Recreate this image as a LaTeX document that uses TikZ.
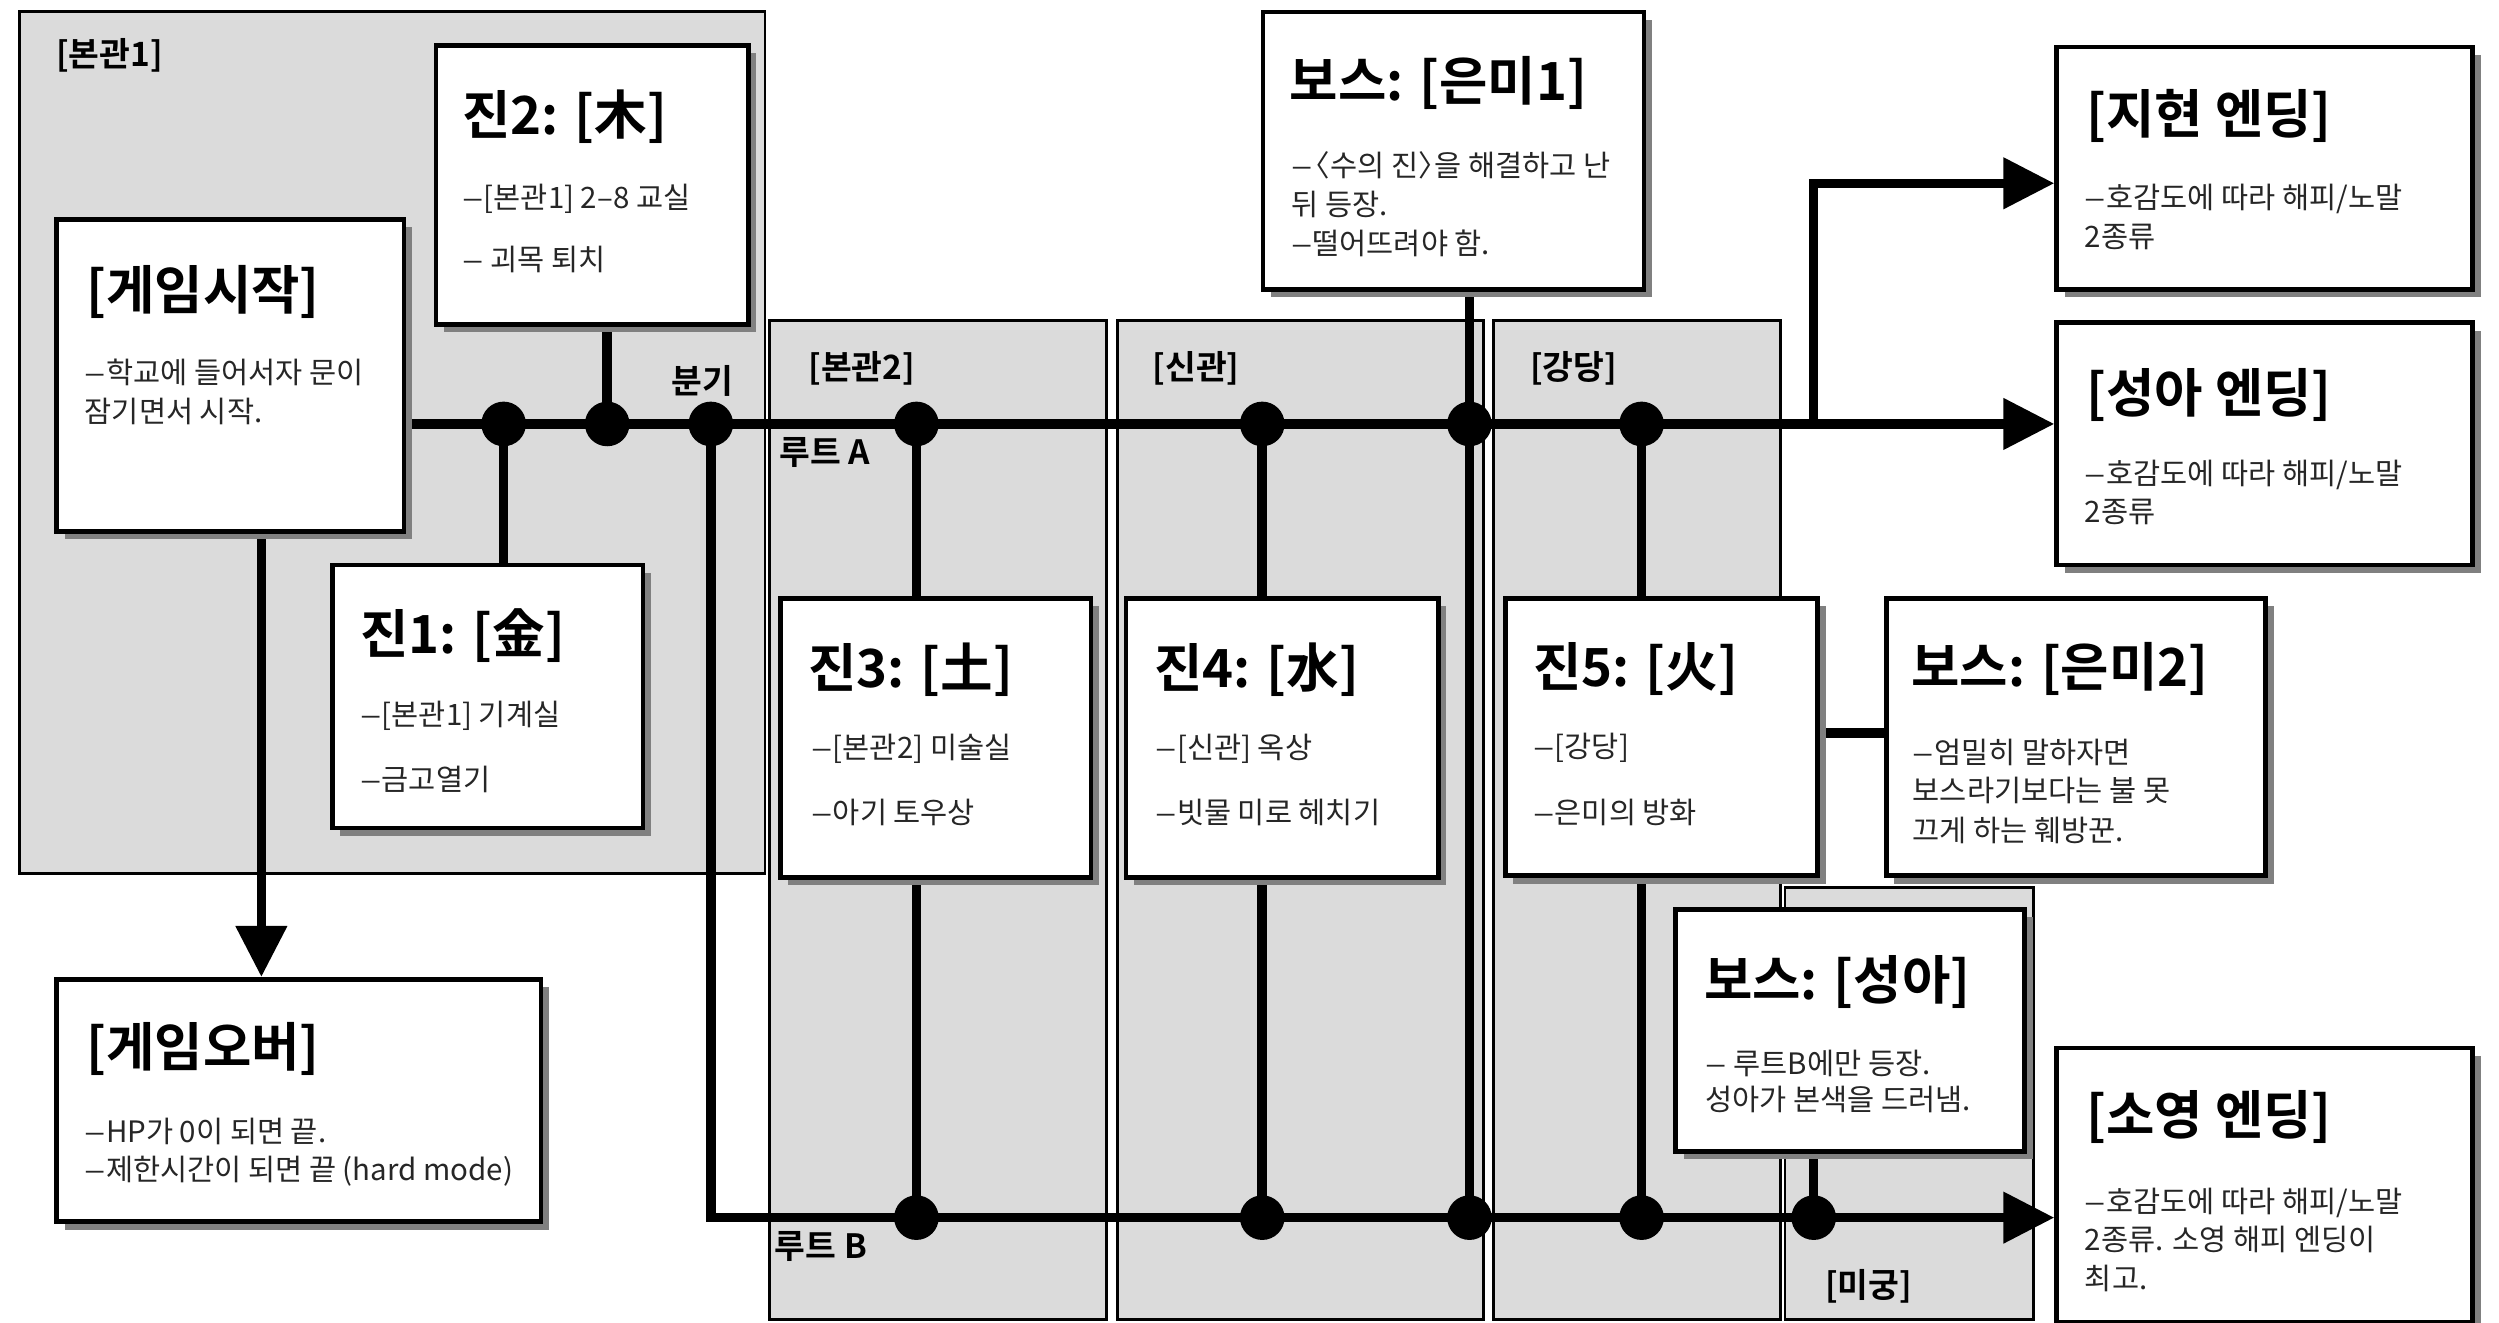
\documentclass[tikz,border=0pt]{standalone}
\usepackage{fontspec}
\usepackage{graphicx}
\setmainfont{Noto Sans CJK KR}[BoldFont={Noto Sans CJK KR Bold}]
\usetikzlibrary{arrows.meta,shadows}
\pgfdeclarelayer{bg}
\pgfdeclarelayer{mid}
\pgfdeclarelayer{fg}
\pgfsetlayers{bg,mid,main,fg}
\definecolor{regiongray}{gray}{0.86}
\definecolor{bodytext}{gray}{0.15}
\newcommand\bd{\scalebox{1.35}[1]{–}}
\tikzset{
  box/.style={draw, line width=3pt, fill=white, anchor=north west, inner sep=0pt,
    drop shadow={shadow xshift=5pt, shadow yshift=-5pt, fill=black!50, opacity=1}},
  region/.style={draw, line width=1.8pt, fill=regiongray},
  conn/.style={line width=6pt},
  dot/.style={circle, fill=black, inner sep=0pt, minimum size=28pt},
  arr/.style={line width=6pt, -{Triangle[width=31pt,length=32pt]}},
  ttl/.style={anchor=west, inner sep=0pt, font=\bfseries\fontsize{33}{36}\selectfont},
  bdy/.style={anchor=west, inner sep=0pt, text=bodytext, font=\fontsize{18.5}{22}\selectfont},
  lbl/.style={anchor=west, inner sep=0pt, font=\bfseries\fontsize{21}{24}\selectfont},
}
\begin{document}
\begin{tikzpicture}[x=1pt,y=-1pt]
\useasboundingbox (0,0) rectangle (1568,830);
\begin{pgfonlayer}{bg}
\fill[white] (0,0) rectangle (1568,830);
\draw[region] (12,7) rectangle (480,548);
\draw[region] (483,201) rectangle (694,828);
\draw[region] (701,201) rectangle (931,828);
\draw[region] (937,201) rectangle (1117,828);
\draw[region] (1120,557) rectangle (1276,828);
\end{pgfonlayer}

\node[lbl] (lb1) at (35,35) {[본관1]};
\node[lbl] (lb2) at (507,231) {[본관2]};
\node[lbl] (lsg) at (723,231) {[신관]};
\node[lbl] (lgd) at (960,231) {[강당]};
\node[lbl] (lmg) at (1145,807) {[미궁]};
\node[lbl] (lbr) at (421,239) {분기};
\node[lbl] (lra) at (489,284) {루트 A};
\node[lbl] (lrb) at (486,782) {루트 B};

% boxes
\node[box, minimum width=218pt, minimum height=196pt] (start) at (34,136) {};
\node[box, minimum width=196pt, minimum height=175pt] (jin2) at (272,27) {};
\node[box, minimum width=195pt, minimum height=165pt] (jin1) at (207,353) {};
\node[box, minimum width=304pt, minimum height=152pt] (over) at (34,613) {};
\node[box, minimum width=195pt, minimum height=175pt] (jin3) at (488,374) {};
\node[box, minimum width=196pt, minimum height=175pt] (jin4) at (705,374) {};
\node[box, minimum width=196pt, minimum height=174pt] (jin5) at (943,374) {};
\node[box, minimum width=238pt, minimum height=174pt] (boss2) at (1182,374) {};
\node[box, minimum width=239pt, minimum height=174pt] (boss1) at (791,6) {};
\node[box, minimum width=219pt, minimum height=152pt] (bossS) at (1050,569) {};
\node[box, minimum width=261pt, minimum height=152pt] (endJ) at (1289,28) {};
\node[box, minimum width=261pt, minimum height=152pt] (endS) at (1289,201) {};
\node[box, minimum width=261pt, minimum height=172pt] (endY) at (1289,656) {};

% junctions
\begin{pgfonlayer}{fg}
\node[dot] (a1) at (316,266) {};
\node[dot] (a2) at (381,266) {};
\node[dot] (a3) at (446,266) {};
\node[dot] (a4) at (575,266) {};
\node[dot] (a5) at (792,266) {};
\node[dot] (a6) at (922,266) {};
\node[dot] (a7) at (1030,266) {};
\node[dot] (b1) at (575,764) {};
\node[dot] (b2) at (792,764) {};
\node[dot] (b3) at (922,764) {};
\node[dot] (b4) at (1030,764) {};
\node[dot] (b5) at (1138,764) {};
\end{pgfonlayer}
\coordinate (aJ) at (1138,266);
\coordinate (b0) at (446,764);
\coordinate (jt) at (1138,115);

% connectors
\begin{pgfonlayer}{mid}
\draw[arr] (start.east |- a1) -- (endS.west |- a1);
\draw[conn] (a1.center) -- (a1 |- jin1.north);
\draw[conn] (a2.center) -- (a2 |- jin2.south);
\draw[arr] (a3.center) -- (b0) -- (endY.west |- b0);
\draw[conn] (a4.center) -- (b1.center);
\draw[conn] (a5.center) -- (b2.center);
\draw[conn] (a6 |- boss1.south) -- (b3.center);
\draw[conn] (a7.center) -- (b4.center);
\draw[conn] (b5.center) -- (b5 |- bossS.south);
\draw[conn] (jin5.east |- 0,460) -- (boss2.west |- 0,460);
\draw[arr] (aJ) -- (jt) -- (endJ.west |- jt);
\draw[arr] (start.south -| 164,0) -- (over.north -| 164,0);
\end{pgfonlayer}

% texts
\begin{pgfonlayer}{fg}
\node[ttl] at (54,183) {[게임시작]};
\node[bdy] at (53,233.5) {\bd 학교에 들어서자 문이};
\node[bdy] at (53,258) {잠기면서 시작.};

\node[ttl] at (290,73) {진2: [木]};
\node[bdy] at (290,125) {\bd[본관1] 2–8 교실};
\node[bdy] at (290,163) {\bd{} 괴목 퇴치};

\node[ttl] at (226,399) {진1: [金]};
\node[bdy] at (226,449) {\bd[본관1] 기계실};
\node[bdy] at (226,489) {\bd 금고열기};

\node[ttl] at (54,658) {[게임오버]};
\node[bdy] at (53,710) {\bd HP가 0이 되면 끝.};
\node[bdy] at (53,735) {\bd 제한시간이 되면 끝 (hard mode)};

\node[ttl] at (507,420) {진3: [土]};
\node[bdy] at (509,470) {\bd[본관2] 미술실};
\node[bdy] at (509,510) {\bd 아기 토우상};

\node[ttl] at (724,420) {진4: [水]};
\node[bdy] at (725,470) {\bd[신관] 옥상};
\node[bdy] at (725,510) {\bd 빗물 미로 헤치기};

\node[ttl] at (962,420) {진5: [火]};
\node[bdy] at (962,469) {\bd[강당]};
\node[bdy] at (962,510) {\bd 은미의 방화};

\node[ttl] at (809,52) {보스: [은미1]};
\node[bdy] at (810,104) {\bd\kern-0.4em〈수의 진〉\kern-0.45em 을 해결하고 난};
\node[bdy] at (810,128.5) {뒤 등장.};
\node[bdy] at (810,153) {\bd 떨어뜨려야 함.};

\node[ttl] at (1199,420) {보스: [은미2]};
\node[bdy] at (1200,472) {\bd 엄밀히 말하자면};
\node[bdy] at (1200,496) {보스라기보다는 불 못};
\node[bdy] at (1200,521) {끄게 하는 훼방꾼.};

\node[ttl] at (1069,616) {보스: [성아]};
\node[bdy] at (1070,667) {\bd{} 루트B에만 등장.};
\node[bdy] at (1070,690) {성아가 본색을 드러냄.};

\node[ttl] at (1309,73) {[지현 엔딩]};
\node[bdy] at (1308,125) {\bd 호감도에 따라 해피/노말};
\node[bdy] at (1308,149) {2종류};

\node[ttl] at (1309,248) {[성아 엔딩]};
\node[bdy] at (1308,298) {\bd 호감도에 따라 해피/노말};
\node[bdy] at (1308,321) {2종류};

\node[ttl] at (1309,701) {[소영 엔딩]};
\node[bdy] at (1308,755) {\bd 호감도에 따라 해피/노말};
\node[bdy] at (1308,778) {2종류. 소영 해피 엔딩이};
\node[bdy] at (1308,802) {최고.};
\end{pgfonlayer}
\end{tikzpicture}
\end{document}
